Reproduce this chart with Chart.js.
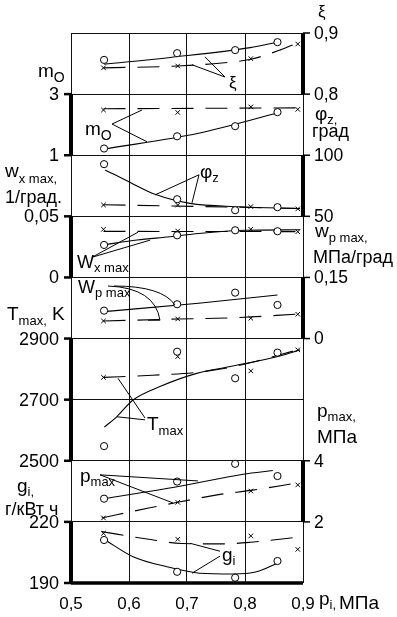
<!DOCTYPE html>
<html>
<head>
<meta charset="utf-8">
<script src="https://cdn.jsdelivr.net/npm/chart.js@4.4.1/dist/chart.umd.min.js"></script>
<style>html,body{margin:0;padding:0;background:#fff}canvas{display:block}</style>
</head>
<body>
<canvas id="c" width="397" height="617"></canvas>
<script>
// x positions of the measured points, p_i in MPa
const xTicks = [0.5, 0.6, 0.7, 0.8, 0.9];
const xCircle = [0.557, 0.683, 0.783, 0.856];
const xCross = [0.556, 0.684, 0.81, 0.891];

// xi
const xiCircle = [0.856, 0.867, 0.872, 0.885];
const xiCross = [0.843, 0.846, 0.858, 0.882];
const xiSolidX = [0.557, 0.671, 0.809, 0.856];
const xiSolid = [0.849, 0.860, 0.876, 0.885];
const xiDashX = [0.556, 0.684, 0.76, 0.81, 0.86, 0.891];
const xiDash = [0.843, 0.846, 0.851, 0.857, 0.872, 0.884];

// m_O
const mCircle = [1.22, 1.62, 1.95, 2.41];
const mCross = [2.48, 2.40, 2.58, 2.50];
const mSolidX = [0.557, 0.72, 0.856];
const mSolid = [1.20, 1.72, 2.38];
const mDashX = [0.556, 0.891];
const mDash = [2.52, 2.55];

// phi_z, deg
const phiCircle = [92.7, 64.0, 55.0, 57.5];
const phiCross = [59.3, 59.2, 58.0, 56.1];
const phiSolidX = [0.559, 0.607, 0.645, 0.705, 0.79, 0.895];
const phiSolid = [88, 76.5, 68, 60.6, 57.9, 56.3];
const phiDashX = [0.556, 0.891];
const phiDash = [59.5, 56.5];

// w_x max, 1/deg
const wxCircle = [0.0266, 0.0345, 0.0386, 0.0378];
const wxCross = [0.0394, 0.038, 0.0394, 0.0374];
const wxSolidX = [0.557, 0.614, 0.671, 0.72, 0.8, 0.895];
const wxSolid = [0.0267, 0.0306, 0.0333, 0.036, 0.0386, 0.039];
const wxDashX = [0.556, 0.891];
const wxDash = [0.0377, 0.0375];

// w_p max, MPa/deg
const wpCircle = [0.0685, 0.0842, 0.1127, 0.0825];
const wpCross = [0.0432, 0.0481, 0.0498, 0.0597];
const wpSolidX = [0.557, 0.72, 0.856];
const wpSolid = [0.066, 0.0867, 0.107];
const wpDashX = [0.556, 0.684, 0.78, 0.891];
const wpDash = [0.043, 0.048, 0.051, 0.060];

// T_max, K
const tCircle = [2548, 2857, 2770, 2854];
const tCross = [2773, 2841, 2794, 2863];
const tSolidX = [0.5574, 0.5788, 0.6069, 0.6534, 0.7167, 0.779, 0.8603, 0.8948];
const tSolid = [2610, 2644, 2699, 2743, 2786, 2810, 2843, 2863];
const tDashX = [0.556, 0.64, 0.72, 0.78, 0.891];
const tDash = [2773, 2780, 2790, 2808, 2863];

// p_max, MPa
const pCircle = [2.76, 3.32, 3.90, 3.50];
const pCross = [2.13, 2.64, 3.01, 3.21];
const pSolidX = [0.557, 0.683, 0.797, 0.848];
const pSolid = [2.76, 3.15, 3.56, 3.68];
const pDashX = [0.553, 0.636, 0.684, 0.757, 0.81, 0.895];
const pDash = [2.13, 2.46, 2.64, 2.90, 3.03, 3.29];

// g_i, g/kWh
const gCircle = [211.1, 195.5, 192.6, 200.8];
const gCross = [214.4, 211.5, 213.1, 206.5];
const gSolidX = [0.557, 0.607, 0.665, 0.722, 0.779, 0.82, 0.856];
const gSolid = [211.5, 202.9, 198.0, 194.8, 194.4, 195.5, 199.7];
const gDashX = [0.553, 0.631, 0.691, 0.76, 0.81, 0.891];
const gDash = [215.2, 211.6, 209.4, 209.2, 210, 212.5];

// axis calibration: two tick values and the grid band (0 = bottom line) they sit on
function bandAxis(v1, b1, v2, b2){
  const per = (v2 - v1) / (b2 - b1);
  return {type:'linear', axis:'y', display:false, min: v1 - b1*per, max: v1 + (9 - b1)*per};
}

const pts = (xs, ys) => xs.map((x, i) => ({x, y: ys[i]}));
const datasets = [];
function group(axis, circ, cross, sx, sy, dx, dy){
  datasets.push({data: pts(xCircle, circ), yAxisID: axis, showLine:false, order:0,
    pointStyle:'circle', pointRadius:3.6, pointBackgroundColor:'#fff', pointBorderColor:'#000', pointBorderWidth:1});
  datasets.push({data: pts(xCross, cross), yAxisID: axis, showLine:false, order:0,
    pointStyle:'crossRot', pointRadius:3.2, pointBorderColor:'#000', pointBorderWidth:1});
  datasets.push({data: pts(sx, sy), yAxisID: axis, showLine:true, order:1, pointRadius:0,
    borderColor:'#000', borderWidth:1.1, cubicInterpolationMode:'monotone'});
  datasets.push({data: pts(dx, dy), yAxisID: axis, showLine:true, order:1, pointRadius:0,
    borderColor:'#000', borderWidth:1.1, borderDash:[22,12], cubicInterpolationMode:'monotone'});
}
group('yXi', xiCircle, xiCross, xiSolidX, xiSolid, xiDashX, xiDash);
group('yM', mCircle, mCross, mSolidX, mSolid, mDashX, mDash);
group('yPhi', phiCircle, phiCross, phiSolidX, phiSolid, phiDashX, phiDash);
group('yWx', wxCircle, wxCross, wxSolidX, wxSolid, wxDashX, wxDash);
group('yWp', wpCircle, wpCross, wpSolidX, wpSolid, wpDashX, wpDash);
group('yT', tCircle, tCross, tSolidX, tSolid, tDashX, tDash);
group('yP', pCircle, pCross, pSolidX, pSolid, pDashX, pDash);
group('yG', gCircle, gCross, gSolidX, gSolid, gDashX, gDash);

const leftAxes = [['yM', [1, 3]], ['yWx', [0, 0.05]], ['yT', [2500, 2700, 2900]], ['yG', [190, 220]]];
const rightAxes = [['yXi', [0.8, 0.9]], ['yPhi', [50, 100]], ['yWp', [0, 0.15]], ['yP', [2, 4]]];

// leader lines in (p_i, band) units
const leaders = [
  [0.7655, 8.28, 0.731, 8.61], [0.7655, 8.28, 0.7086, 8.48],
  [0.5707, 7.51, 0.6224, 7.74], [0.5707, 7.51, 0.631, 7.22],
  [0.7207, 6.68, 0.6448, 6.35], [0.7207, 6.68, 0.7086, 6.22],
  [0.5362, 5.33, 0.6155, 5.74], [0.5362, 5.33, 0.6362, 5.61],
  [0.6276, 2.70, 0.581, 3.35], [0.6276, 2.67, 0.5793, 2.72],
  [0.55, 1.77, 0.6759, 1.31], [0.55, 1.77, 0.719, 1.67],
  [0.7569, 0.52, 0.7052, 0.65], [0.7569, 0.44, 0.7086, 0.16]
];

const FONT = '"Liberation Sans", Arial, sans-serif';
const fmt = v => String(v).replace('.', ',');

const overlay = {
  id: 'overlay',
  afterDraw(chart){
    const {ctx, chartArea: a, scales: s} = chart;
    const X = v => s.x.getPixelForValue(v);
    const B = v => s.band.getPixelForValue(v);
    ctx.save();
    ctx.fillStyle = '#000';
    ctx.strokeStyle = '#000';
    ctx.textBaseline = 'alphabetic';

    function lab(parts, x, y){
      let cx = x;
      ctx.textAlign = 'left';
      parts.forEach(([t, size, dy]) => {
        ctx.font = size + 'px ' + FONT;
        ctx.fillText(t, cx, y + (dy || 0));
        cx += ctx.measureText(t).width;
      });
    }
    function line(x1, y1, x2, y2, w){
      ctx.lineWidth = w; ctx.beginPath(); ctx.moveTo(x1, y1); ctx.lineTo(x2, y2); ctx.stroke();
    }

    // thick axis bars, ticks and tick labels
    ctx.font = '18px ' + FONT;
    ctx.textBaseline = 'middle';
    leftAxes.forEach(([id, ticks]) => {
      const sc = s[id];
      const y1 = sc.getPixelForValue(ticks[0]), y2 = sc.getPixelForValue(ticks[ticks.length-1]);
      line(a.left, y1, a.left, y2, 4);
      ticks.forEach(v => {
        const y = sc.getPixelForValue(v);
        line(a.left - 7, y, a.left, y, 2.5);
        ctx.textAlign = 'right';
        ctx.fillText(fmt(v), a.left - 12, y + 1);
      });
    });
    ctx.font = '17.5px ' + FONT;
    rightAxes.forEach(([id, ticks]) => {
      const sc = s[id];
      const y1 = sc.getPixelForValue(ticks[0]), y2 = sc.getPixelForValue(ticks[ticks.length-1]);
      line(a.right, y1, a.right, y2, 4);
      ticks.forEach(v => {
        const y = sc.getPixelForValue(v);
        line(a.right, y, a.right + 7, y, 1.5);
        ctx.textAlign = 'left';
        ctx.fillText(fmt(v), a.right + 11, y + 1);
      });
    });
    // bottom axis
    line(a.left, a.bottom, a.right, a.bottom, 3.5);
    ctx.font = '17px ' + FONT;
    ctx.textAlign = 'center';
    ctx.textBaseline = 'alphabetic';
    xTicks.forEach(v => ctx.fillText(fmt(v), X(v), 609));

    // axis titles
    lab([['m', 19], ['O', 14, 5]], 38, 77);
    lab([['w', 19], ['x max,', 13, 6]], 5, 177);
    lab([['1/град.', 18]], 5, 203);
    lab([['T', 19], ['max,', 13, 5], [' K', 19]], 7, 320);
    lab([['g', 19], ['i,', 13, 4]], 17, 492);
    lab([['г/кВт ч', 18]], 5, 515);
    lab([['ξ', 17]], 318, 17);
    lab([['φ', 19], ['z,', 13, 4]], 315, 120);
    lab([['град', 18]], 312, 137);
    lab([['w', 19], ['p max,', 13, 5]], 315, 237);
    lab([['МПа/град', 18]], 313, 263);
    lab([['p', 19], ['max,', 13, 4]], 317, 417);
    lab([['МПа', 19]], 317, 443);
    lab([['p', 19], ['i,', 13, 4]], 319, 605);
    lab([['МПа', 19]], 339, 609);

    // curve labels inside the plot
    lab([['ξ', 17]], X(0.7724), B(8.10));
    lab([['m', 19], ['O', 14, 5]], X(0.5241), B(7.33));
    lab([['φ', 19], ['z', 13, 4]], X(0.7224), B(6.63));
    lab([['W', 18], ['x max', 13, 4]], X(0.5103), B(5.15));
    lab([['W', 18], ['p max', 13, 4]], X(0.5121), B(4.75));
    lab([['T', 19], ['max', 13, 5]], X(0.631), B(2.50));
    lab([['p', 19], ['max', 13, 4]], X(0.5155), B(1.65));
    lab([['g', 19], ['i', 13, 4]], X(0.7603), B(0.36));

    leaders.forEach(([x1, b1, x2, b2]) => line(X(x1), B(b1), X(x2), B(b2), 1));
    // curved leaders for w_p max
    ctx.lineWidth = 1;
    ctx.beginPath();
    ctx.moveTo(X(0.5638), B(4.86));
    ctx.quadraticCurveTo(X(0.6448), B(4.83), X(0.6534), B(4.30));
    ctx.lineTo(X(0.6328), B(4.30));
    ctx.moveTo(X(0.5741), B(4.86));
    ctx.quadraticCurveTo(X(0.6569), B(4.86), X(0.6793), B(4.55));
    ctx.stroke();
    ctx.restore();
  }
};

new Chart(document.getElementById('c'), {
  type: 'scatter',
  data: {datasets},
  options: {
    responsive: false,
    devicePixelRatio: 1,
    animation: false,
    layout: {padding: {left: 71, right: 94, top: 33, bottom: 34}},
    plugins: {legend: {display: false}, tooltip: {enabled: false}},
    scales: {
      x: {type: 'linear', min: 0.5, max: 0.9,
        ticks: {display: false, stepSize: 0.1},
        grid: {color: '#111', lineWidth: 1, drawTicks: false},
        border: {display: false},
        afterFit: sc => { sc.height = 0; }},
      band: {type: 'linear', axis: 'y', position: 'left', min: 0, max: 9,
        ticks: {display: false, stepSize: 1},
        grid: {color: '#111', lineWidth: 1, drawTicks: false},
        border: {display: false},
        afterFit: sc => { sc.width = 0; }},
      yXi: bandAxis(0.8, 8, 0.9, 9),
      yM: bandAxis(1, 7, 3, 8),
      yPhi: bandAxis(50, 6, 100, 7),
      yWx: bandAxis(0, 5, 0.05, 6),
      yWp: bandAxis(0, 4, 0.15, 5),
      yT: bandAxis(2500, 2, 2900, 4),
      yP: bandAxis(2, 1, 4, 2),
      yG: bandAxis(190, 0, 220, 1)
    }
  },
  plugins: [overlay]
});
</script>
</body>
</html>
